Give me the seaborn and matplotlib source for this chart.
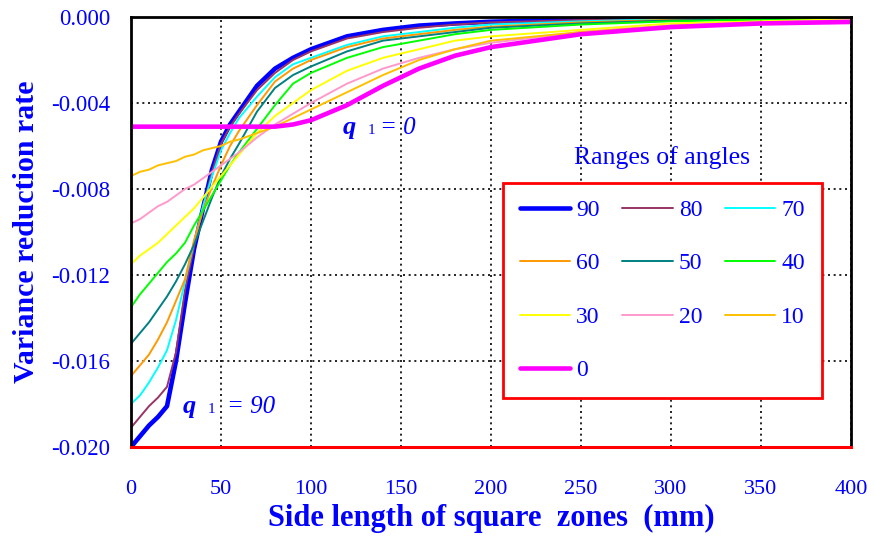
import matplotlib
matplotlib.use("Agg")
import matplotlib.pyplot as plt
import seaborn as sns
import pandas as pd

# ---------------- data ----------------
side_length = [0, 5, 10, 15, 20, 25, 30, 35, 40, 45, 50, 55, 60, 70, 80, 90, 100,
               120, 140, 160, 180, 200, 250, 300, 350, 400]

rate_90 = [-0.0200, -0.0195, -0.0190, -0.0186, -0.0181, -0.0160, -0.0133, -0.0108,
           -0.0089, -0.0071, -0.0058, -0.0050, -0.0044, -0.0032, -0.0024, -0.0019,
           -0.0015, -0.0009, -0.0006, -0.0004, -0.0003, -0.00022, -0.00012, -0.00006,
           -0.00003, -0.00002]
rate_80 = [-0.0191, -0.0186, -0.0181, -0.0177, -0.0172, -0.0156, -0.0127, -0.0107,
           -0.0088, -0.0072, -0.0059, -0.0051, -0.0045, -0.0034, -0.0026, -0.0020,
           -0.0016, -0.0010, -0.0007, -0.0005, -0.00035, -0.00025, -0.00014, -0.00008,
           -0.00004, -0.00002]
rate_70 = [-0.0180, -0.0176, -0.0170, -0.0163, -0.0155, -0.0141, -0.0123, -0.0105,
           -0.0088, -0.0074, -0.0062, -0.0054, -0.0047, -0.0037, -0.0028, -0.0022,
           -0.0019, -0.0013, -0.0009, -0.0007, -0.0005, -0.00035, -0.0002, -0.0001,
           -0.00006, -0.00003]
rate_60 = [-0.0167, -0.0162, -0.0157, -0.0150, -0.0142, -0.0132, -0.0122, -0.0104,
           -0.0090, -0.0079, -0.0069, -0.0060, -0.0053, -0.0041, -0.0030, -0.0024,
           -0.0020, -0.0014, -0.0010, -0.0008, -0.0006, -0.00045, -0.00025, -0.00013,
           -0.00008, -0.00004]
rate_50 = [-0.0152, -0.0147, -0.0142, -0.0136, -0.0130, -0.0123, -0.0115, -0.0106,
           -0.0095, -0.0084, -0.0074, -0.0066, -0.0059, -0.0044, -0.0033, -0.0027,
           -0.0023, -0.0016, -0.0011, -0.0009, -0.0007, -0.0005, -0.0003, -0.00016,
           -0.0001, -0.00005]
rate_40 = [-0.0135, -0.0129, -0.0124, -0.0119, -0.0114, -0.0110, -0.0105, -0.0097,
           -0.0090, -0.0083, -0.0076, -0.0069, -0.0063, -0.0052, -0.0041, -0.0031,
           -0.0026, -0.0019, -0.0014, -0.0011, -0.0008, -0.0006, -0.00035, -0.0002,
           -0.00012, -0.00006]
rate_30 = [-0.0115, -0.0111, -0.0108, -0.0105, -0.0101, -0.0097, -0.0093, -0.0089,
           -0.0084, -0.0079, -0.0074, -0.0069, -0.0064, -0.0054, -0.0046, -0.0040,
           -0.0034, -0.0025, -0.0019, -0.0015, -0.0011, -0.0009, -0.0006, -0.0003,
           -0.0002, -0.0001]
rate_20 = [-0.0096, -0.0094, -0.0091, -0.0088, -0.0086, -0.0083, -0.0080, -0.0078,
           -0.0075, -0.0072, -0.0069, -0.0066, -0.0063, -0.0056, -0.0050, -0.0045,
           -0.0040, -0.0031, -0.0024, -0.0019, -0.0015, -0.0012, -0.0007, -0.0004,
           -0.00025, -0.00015]
rate_10 = [-0.0074, -0.0072, -0.0071, -0.0069, -0.0068, -0.0067, -0.0065, -0.0064,
           -0.0062, -0.0061, -0.0060, -0.0058, -0.0057, -0.0054, -0.0051, -0.0047,
           -0.0043, -0.0035, -0.0027, -0.0020, -0.0015, -0.0011, -0.0007, -0.0004,
           -0.0003, -0.0002]
rate_0 = [-0.0051, -0.0051, -0.0051, -0.0051, -0.0051, -0.0051, -0.0051, -0.0051,
          -0.0051, -0.0051, -0.0051, -0.0051, -0.0051, -0.0051, -0.0051, -0.0050,
          -0.0048, -0.0041, -0.0032, -0.0024, -0.0018, -0.0014, -0.0008, -0.00047,
          -0.0003, -0.00023]

angle_labels = ["90", "80", "70", "60", "50", "40", "30", "20", "10", "0"]
series_values = [rate_90, rate_80, rate_70, rate_60, rate_50,
                 rate_40, rate_30, rate_20, rate_10, rate_0]

x_ticks = [0, 50, 100, 150, 200, 250, 300, 350, 400]
x_tick_labels = ["0", "50", "100", "150", "200", "250", "300", "350", "400"]
y_ticks = [0.000, -0.004, -0.008, -0.012, -0.016, -0.020]
y_tick_labels = ["0.000", "-0.004", "-0.008", "-0.012", "-0.016", "-0.020"]

# ---------------- styling ----------------
colors = ["#0000FF", "#993366", "#00FFFF", "#FF9900", "#008080",
          "#00FF00", "#FFFF00", "#FF99CC", "#FFC000", "#FF00FF"]
widths = [3.3, 1.4, 1.4, 1.4, 1.4, 1.4, 1.4, 1.4, 1.4, 3.3]
BLUE = "#0000FF"

sns.set_style("white")
plt.rcParams["font.family"] = ["Liberation Serif", "DejaVu Serif"]

df = pd.DataFrame({
    "side": side_length * len(angle_labels),
    "rate": [v for vals in series_values for v in vals],
    "angle": [lab for lab in angle_labels for _ in side_length],
})

W, H = 875, 541
fig = plt.figure(figsize=(W / 100, H / 100), dpi=100)
ax = fig.add_axes([131 / W, 1 - 447 / H, (851 - 131) / W, (447 - 17) / H])

for lab, col, lw in zip(angle_labels, colors, widths):
    sns.lineplot(data=df[df["angle"] == lab], x="side", y="rate",
                 color=col, linewidth=lw, label=lab, ax=ax,
                 estimator=None, sort=False)

ax.set_xlim(0, 400)
ax.set_ylim(-0.020, 0.0)
ax.set_xticks(x_ticks)
ax.set_xticklabels(x_tick_labels)
ax.set_yticks(y_ticks)
ax.set_yticklabels(y_tick_labels)

ax.grid(True, color="black", linestyle=(0, (1.2, 2.2)), linewidth=1.2)
ax.set_axisbelow(True)

for s in ["left", "top", "right"]:
    ax.spines[s].set_color("black")
    ax.spines[s].set_linewidth(2)
ax.spines["bottom"].set_color("#FF0000")
ax.spines["bottom"].set_linewidth(2.2)

ax.tick_params(axis="x", direction="in", length=5, width=1.8, colors="#FF0000",
               labelcolor=BLUE, labelsize=16, pad=24)
ax.tick_params(axis="y", direction="in", length=6, width=2, colors="black",
               labelcolor=BLUE, labelsize=16.5, pad=15)

ax.set_xlabel("Side length of square  zones  (mm)", fontsize=22,
              fontweight="bold", color=BLUE, labelpad=3)
ax.set_ylabel("Variance reduction rate", fontsize=21.5,
              fontweight="bold", color=BLUE, labelpad=8)

# legend
handles, labels = ax.get_legend_handles_labels()
order = [0, 3, 6, 9, 1, 4, 7, 2, 5, 8]
leg = ax.legend([handles[i] for i in order], [labels[i] for i in order],
                ncol=3, loc="upper left",
                bbox_to_anchor=(503 / W, 1 - 183 / H), bbox_transform=fig.transFigure,
                borderaxespad=0, fontsize=17, handlelength=2.15,
                handletextpad=0.25, columnspacing=0.95, labelspacing=1.35,
                borderpad=0.7, fancybox=False, framealpha=1)
leg.get_frame().set_edgecolor("#FF0000")
leg.get_frame().set_linewidth(2)
for t in leg.get_texts():
    t.set_color(BLUE)
fig.text(662 / W, 1 - 158 / H, "Ranges of angles", fontsize=18.5,
         color=BLUE, ha="center", va="center")

# curve annotations
ax.text(117.8, -0.00544, "q", fontsize=19, fontweight="bold", style="italic",
        color=BLUE, ha="left", va="baseline")
ax.text(131.5, -0.00544, "1", fontsize=11, color=BLUE, ha="left", va="baseline")
ax.text(138.5, -0.00544, "= 0", fontsize=18, style="italic", color=BLUE,
        ha="left", va="baseline")

ax.text(28.9, -0.01842, "q", fontsize=19, fontweight="bold", style="italic",
        color=BLUE, ha="left", va="baseline")
ax.text(42.5, -0.01842, "1", fontsize=11, color=BLUE, ha="left", va="baseline")
ax.text(53.3, -0.01842, "= 90", fontsize=18, style="italic", color=BLUE,
        ha="left", va="baseline")

fig.savefig("out.png", dpi=100)
